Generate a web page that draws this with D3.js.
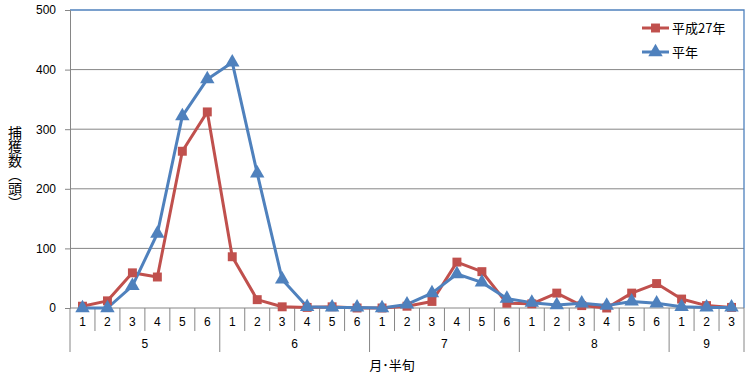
<!DOCTYPE html>
<html><head><meta charset="utf-8">
<script src="https://cdn.jsdelivr.net/npm/d3@7"></script>
<style>body{margin:0;background:#fff}svg{display:block}</style>
</head><body><svg id="c" width="753" height="378"></svg>
<script>
const months = ["5","6","7","8","9"];
const halves = ["1","2","3","4","5","6","1","2","3","4","5","6","1","2","3","4","5","6","1","2","3","4","5","6","1","2","3"];
const monthOf = ["5","5","5","5","5","5","6","6","6","6","6","6","7","7","7","7","7","7","8","8","8","8","8","8","9","9","9"];
const h27 = [3,12,59,52,263,329,86,14,2,1,2,0,0,3,11,77,61,8,7,25,4,0,25,41,15,4,1];
const normal = [0,0,37,125,322,384,412,226,48,2,1,1,0,6,25,57,43,16,9,5,8,4,11,8,2,1,1];
const yTicks = [0,100,200,300,400,500];
const seriesNames = ["平成27年","平年"];

const svg = d3.select("#c");
const L=70,R=744,T=10,B=308;
const idx = d3.range(halves.length);
const x = d3.scaleBand().domain(idx).range([L,R]);
const y = d3.scaleLinear().domain([0,500]).range([B,T]);
const font = "'Liberation Sans', Arial, sans-serif";
const jfont = "'Noto Sans CJK JP', sans-serif";

// gridlines
svg.append("g").selectAll("line").data(yTicks.slice(1,-1)).join("line")
  .attr("x1",L).attr("x2",R).attr("y1",d=>y(d)).attr("y2",d=>y(d))
  .attr("stroke","#868686").attr("stroke-width",1);
// plot border top/right blue
svg.append("path").attr("d",`M${L},${y(500)}H${R}V${B}`).attr("fill","none").attr("stroke","#4F81BD").attr("stroke-width",1.3);

// y axis
const ya = svg.append("g").attr("transform",`translate(${L},0)`)
  .call(d3.axisLeft(y).tickValues(yTicks).tickSize(5).tickPadding(9));
ya.select(".domain").attr("stroke","#868686");
ya.selectAll(".tick line").attr("stroke","#868686");
ya.selectAll(".tick text").attr("font-family",font).attr("font-size",12).attr("fill","#000");

// x axis base
svg.append("line").attr("x1",L).attr("x2",R).attr("y1",B).attr("y2",B).attr("stroke","#868686");
// category separators
const bounds = d3.range(halves.length+1);
svg.append("g").selectAll("line").data(bounds).join("line")
  .attr("x1",d=>L+d*x.step()).attr("x2",d=>L+d*x.step())
  .attr("y1",B).attr("y2",d=>(d===0||d===halves.length||monthOf[d]!==monthOf[d-1])?352:331)
  .attr("stroke","#868686");
svg.append("g").selectAll("text").data(idx).join("text")
  .attr("x",d=>x(d)+x.bandwidth()/2).attr("y",326).attr("text-anchor","middle")
  .attr("font-family",font).attr("font-size",12).text(d=>halves[d]);
// month labels
svg.append("g").selectAll("text").data(months).join("text")
  .attr("x",m=>{const ii=idx.filter(i=>monthOf[i]===m);return (x(ii[0])+x(ii[ii.length-1])+x.bandwidth())/2;})
  .attr("y",348).attr("text-anchor","middle").attr("font-family",font).attr("font-size",12).text(m=>m);

// axis titles
svg.append("text").attr("x",392).attr("y",370).attr("text-anchor","middle")
  .attr("font-family",jfont).attr("font-size",13).text("月･半旬");
svg.append("text").attr("x",15).attr("y",126)
  .attr("style","writing-mode:vertical-rl;text-orientation:upright")
  .attr("font-family",jfont).attr("font-size",14).text("捕獲数（頭）");

const colors = ["#C0504D","#4F81BD"];
const line = d3.line().x((d,i)=>x(i)+x.bandwidth()/2).y(d=>y(d));
[h27,normal].forEach((vals,k)=>{
  svg.append("path").datum(vals).attr("d",line).attr("fill","none")
    .attr("stroke",colors[k]).attr("stroke-width",3).attr("stroke-linejoin","round");
});
const sym = [d3.symbol().type(d3.symbolSquare).size(80), d3.symbol().type(d3.symbolTriangle).size(90)];
[h27,normal].forEach((vals,k)=>{
  svg.append("g").selectAll("path").data(vals).join("path")
    .attr("transform",(d,i)=>`translate(${x(i)+x.bandwidth()/2},${y(d)})`)
    .attr("d",sym[k]()).attr("fill",colors[k]);
});

// legend
seriesNames.forEach((n,k)=>{
  const ly = 28 + k*24;
  svg.append("line").attr("x1",642).attr("x2",669).attr("y1",ly).attr("y2",ly).attr("stroke",colors[k]).attr("stroke-width",3);
  svg.append("path").attr("transform",`translate(655.5,${ly})`).attr("d",sym[k]()).attr("fill",colors[k]);
  svg.append("text").attr("x",672).attr("y",ly+5).attr("font-family",jfont).attr("font-size",13).text(n);
});
</script></body></html>
